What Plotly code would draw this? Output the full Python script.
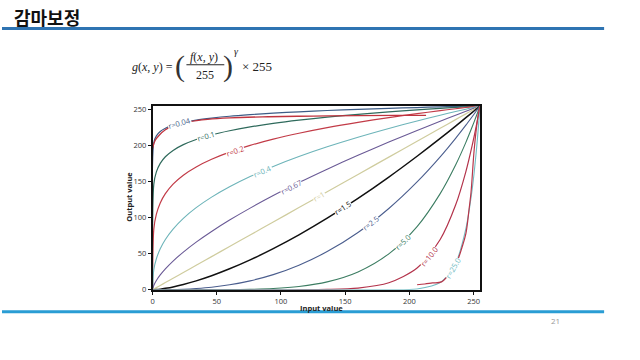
import plotly.graph_objects as go

# ---------------- data ----------------
title_text = "감마보정"
page_number = "21"

gamma_labels = ["r=0.04", "r=0.1", "r=0.2", "r=0.4", "r=0.67", "r=1",
                "r=1.5", "r=2.5", "r=5.0", "r=10.0", "r=25.0"]

input_values = [0, 1, 3, 6, 10, 16, 24, 34, 46, 60, 76, 94, 114, 136, 160,
                184, 206, 224, 236, 244, 249, 252, 254, 255]

out_g004 = [0, 204.3, 213.5, 219.5, 224.0, 228.3, 232.0, 235.3, 238.1, 240.7, 242.9, 245.0,
            246.9, 248.7, 250.3, 251.7, 252.8, 253.7, 254.2, 254.6, 254.8, 254.9, 255.0, 255]
out_g01 = [0, 146.5, 163.5, 175.3, 184.5, 193.3, 201.3, 208.5, 214.9, 220.6, 225.9, 230.8,
           235.3, 239.5, 243.4, 246.8, 249.6, 251.7, 253.0, 253.9, 254.4, 254.7, 254.9, 255]
out_g02 = [0, 84.2, 104.9, 120.5, 133.4, 146.6, 159.0, 170.4, 181.0, 190.9, 200.2, 208.9,
           217.1, 224.9, 232.3, 238.9, 244.3, 248.5, 251.1, 252.8, 253.8, 254.4, 254.8, 255]
out_g04 = [0, 27.8, 43.1, 56.9, 69.8, 84.2, 99.1, 113.9, 128.5, 142.9, 157.1, 171.1,
           184.8, 198.3, 211.6, 223.8, 234.1, 242.1, 247.2, 250.5, 252.6, 253.8, 254.6, 255]
out_g067 = [0, 6.2, 13.0, 20.7, 29.1, 39.9, 52.3, 66.1, 80.9, 96.7, 113.3, 130.7,
            148.7, 167.3, 186.6, 204.9, 221.0, 233.8, 242.1, 247.6, 251.0, 253.0, 254.3, 255]
out_g1 = [0, 1, 3, 6, 10, 16, 24, 34, 46, 60, 76, 94, 114, 136, 160,
          184, 206, 224, 236, 244, 249, 252, 254, 255]
out_g15 = [0, 0.1, 0.3, 0.9, 2.0, 4.0, 7.4, 12.4, 19.5, 29.1, 41.5, 57.1,
           76.2, 99.3, 126.7, 156.3, 185.2, 209.9, 227.0, 238.7, 246.1, 250.5, 253.5, 255]
out_g25 = [0, 0, 0, 0, 0.1, 0.3, 0.7, 1.7, 3.5, 6.9, 12.4, 21.0,
           34.1, 53.0, 79.5, 112.8, 149.6, 184.4, 210.1, 228.4, 240.3, 247.6, 252.5, 255]
out_g5 = [0, 0, 0, 0, 0, 0, 0, 0, 0.05, 0.2, 0.6, 1.7,
          4.6, 11.0, 24.8, 49.9, 87.7, 133.4, 173.1, 204.5, 226.4, 240.3, 250.0, 255]
out_g10 = [0, 0, 0, 0, 0, 0, 0, 0, 0, 0, 0, 0,
           0.1, 0.5, 2.4, 9.8, 30.2, 69.8, 117.5, 164.0, 201.0, 226.4, 245.1, 255]
out_g25b = [0, 0, 0, 0, 0, 0, 0, 0, 0, 0, 0, 0,
            0, 0, 0, 0.1, 1.2, 10.0, 36.8, 84.7, 140.6, 189.7, 231.1, 255]

# measured (hand-traced) red curves
red_top_x = [0, 2, 5, 10, 17, 28, 43, 60, 90, 125, 160, 190, 213]
red_top_y = [196, 207, 214, 222, 228, 233, 236.5, 238.5, 240, 241, 241.5, 242, 242]
red_bot_x = [206, 212, 218, 225, 231, 237.5, 241, 244, 246.5, 248, 250.5, 253, 255]
red_bot_y = [7, 8, 9.5, 11, 22, 41, 59, 78, 112, 135, 195, 235, 255]

tick_values = [0, 50, 100, 150, 200, 250]
x_title = "Input value"
y_title = "Output value"

# ---------------- style ----------------
series = [out_g004, out_g01, out_g02, out_g04, out_g067, out_g1,
          out_g15, out_g25, out_g5, out_g10, out_g25b]
colors = ["#3d5c86", "#2f6a5c", "#c23b47", "#6db4b9", "#6a5a96", "#cfcc9e",
          "#111111", "#4b5e8e", "#3c7d62", "#b3334b", "#72bcc3"]
widths = [1.2, 1.2, 1.2, 1.1, 1.1, 1.2, 1.5, 1.1, 1.1, 1.2, 1.1]
# label placement (x, y, angle)
label_place = [(21, 231, -16), (42, 213, -16), (64, 193, -19), (86, 165, -23),
               (108, 143, -27), (130, 130, -30), (148, 113, -33), (170, 92, -38),
               (195, 66, -44), (215, 46, -51), (234, 30, -60)]

W, H = 640, 360


def px(x):
    return x / W


def py(y):
    return 1 - y / H


fig = go.Figure()
for s, c, w in zip(series, colors, widths):
    fig.add_trace(go.Scatter(x=input_values, y=s, mode="lines",
                             line=dict(color=c, width=w, shape="spline", smoothing=0.8),
                             hoverinfo="skip"))
fig.add_trace(go.Scatter(x=red_top_x, y=red_top_y, mode="lines",
                         line=dict(color="#c0343f", width=1.3, shape="spline"), hoverinfo="skip"))
fig.add_trace(go.Scatter(x=red_bot_x, y=red_bot_y, mode="lines",
                         line=dict(color="#b8364a", width=1.2, shape="spline"), hoverinfo="skip"))

annotations = []
for lab, (lx, ly, ang), c in zip(gamma_labels, label_place, colors):
    annotations.append(dict(x=lx, y=ly, xref="x", yref="y", text=lab, showarrow=False,
                            textangle=ang, bgcolor="white", borderpad=0,
                            font=dict(family="Open Sans", size=7.5, color=c)))

serif = "Liberation Serif"
txt = "#222222"
annotations += [
    dict(x=px(10), y=py(15), xref="paper", yref="paper", text="<b>" + title_text + "</b>",
         showarrow=False, xanchor="left", yanchor="middle",
         font=dict(family="Noto Sans CJK KR", size=18, color="#111111")),
    dict(x=px(129), y=py(66), xref="paper", yref="paper",
         text="<i>g</i>(<i>x</i>, <i>y</i>) =", showarrow=False, xanchor="left", yanchor="middle",
         borderpad=0, font=dict(family=serif, size=12, color=txt)),
    dict(x=px(179), y=py(65), xref="paper", yref="paper", text="(", showarrow=False,
         xanchor="center", yanchor="middle", borderpad=0,
         font=dict(family=serif, size=30, color="#333333")),
    dict(x=px(203), y=py(56), xref="paper", yref="paper",
         text="<i>f</i>(<i>x</i>, <i>y</i>)", showarrow=False, xanchor="center", yanchor="middle",
         font=dict(family=serif, size=12, color=txt)),
    dict(x=px(204), y=py(74), xref="paper", yref="paper", text="255", showarrow=False,
         xanchor="center", yanchor="middle", font=dict(family=serif, size=12, color=txt)),
    dict(x=px(227), y=py(65), xref="paper", yref="paper", text=")", showarrow=False,
         xanchor="center", yanchor="middle", borderpad=0,
         font=dict(family=serif, size=30, color="#333333")),
    dict(x=px(235), y=py(50), xref="paper", yref="paper", text="<i>γ</i>", showarrow=False,
         xanchor="center", yanchor="middle", font=dict(family=serif, size=10, color=txt)),
    dict(x=px(239), y=py(66), xref="paper", yref="paper", text="× 255", showarrow=False,
         xanchor="left", yanchor="middle", font=dict(family=serif, size=13, color=txt)),
    dict(x=px(321), y=py(312), xref="paper", yref="paper", text="<b>" + x_title + "</b>",
         showarrow=False, xanchor="center", yanchor="middle", borderpad=0,
         font=dict(family="Open Sans", size=7.5, color="#222222")),
    dict(x=px(128), y=py(199), xref="paper", yref="paper", text="<b>" + y_title + "</b>",
         showarrow=False, textangle=-90, xanchor="center", yanchor="middle",
         font=dict(family="Open Sans", size=7.5, color="#222222")),
    dict(x=px(555), y=py(325), xref="paper", yref="paper", text=page_number,
         showarrow=False, xanchor="center", yanchor="middle",
         font=dict(family="Open Sans", size=8, color="#999999")),
]

shapes = [
    dict(type="line", xref="paper", yref="paper", x0=0, x1=px(604), y0=py(27), y1=py(27),
         line=dict(color="#2f74b2", width=3)),
    dict(type="line", xref="paper", yref="paper", x0=0, x1=px(604), y0=py(316), y1=py(316),
         line=dict(color="#2a9dd4", width=3)),
    dict(type="line", xref="paper", yref="paper", x0=px(185), x1=px(223), y0=py(64), y1=py(64),
         line=dict(color=txt, width=1)),
]

axis_common = dict(range=[0, 255], tickvals=tick_values, ticks="outside", ticklen=3,
                   tickcolor="#111111", showline=True, linecolor="#111111", linewidth=1.5,
                   mirror=True, showgrid=False, zeroline=False,
                   tickfont=dict(family="Open Sans", size=7.5, color="#333333"))

fig.update_layout(
    width=W, height=H, margin=dict(l=0, r=0, t=0, b=0),
    paper_bgcolor="white", plot_bgcolor="white", showlegend=False,
    xaxis=dict(domain=[px(151), px(479.5)], **axis_common),
    yaxis=dict(domain=[1 - 293.5 / H, 1 - 106 / H], **axis_common),
    annotations=annotations, shapes=shapes,
)

fig.write_html("out.html")
